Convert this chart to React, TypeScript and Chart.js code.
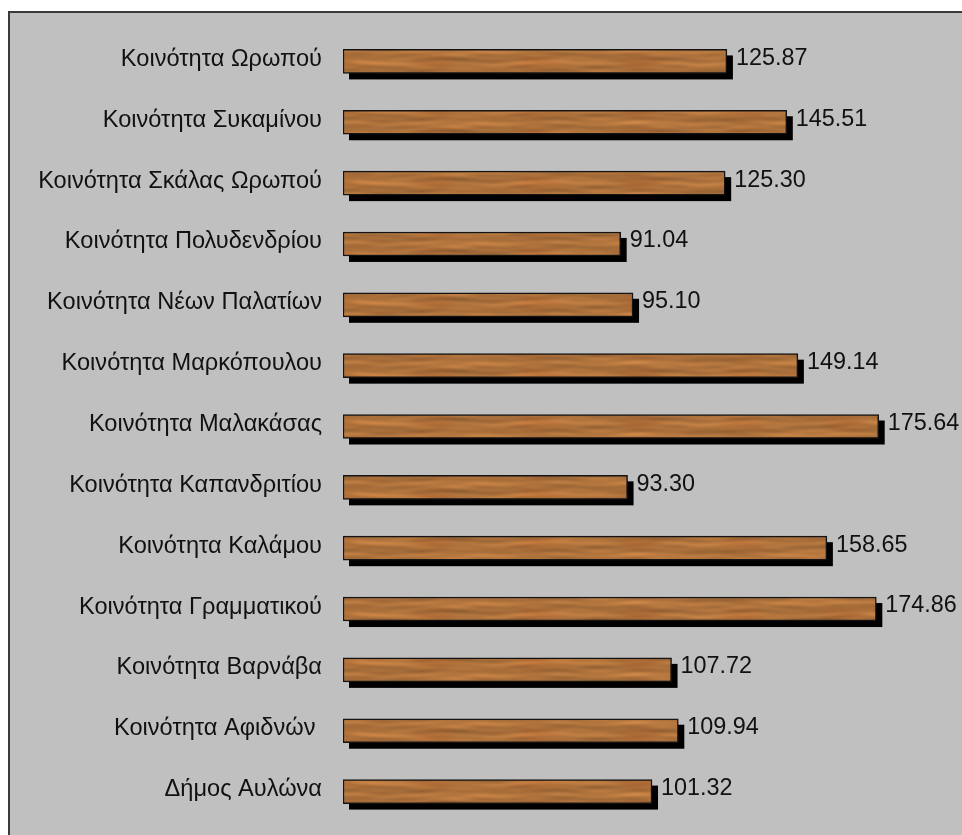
import React, { useEffect, useRef } from "react";
import { Chart, registerables } from "chart.js";

Chart.register(...registerables);

const categories: string[] = [
  "Κοινότητα Ωρωπού",
  "Κοινότητα Συκαμίνου",
  "Κοινότητα Σκάλας Ωρωπού",
  "Κοινότητα Πολυδενδρίου",
  "Κοινότητα Νέων Παλατίων",
  "Κοινότητα Μαρκόπουλου",
  "Κοινότητα Μαλακάσας",
  "Κοινότητα Καπανδριτίου",
  "Κοινότητα Καλάμου",
  "Κοινότητα Γραμματικού",
  "Κοινότητα Βαρνάβα",
  "Κοινότητα Αφιδνών ",
  "Δήμος Αυλώνα",
];

const values: number[] = [
  125.87, 145.51, 125.3, 91.04, 95.1, 149.14, 175.64, 93.3, 158.65, 174.86,
  107.72, 109.94, 101.32,
];

const axisMax = 200;
const FONT = "'Liberation Sans', Arial, sans-serif";

function makeWoodPattern(): CanvasPattern | string {
  const w = 512;
  const h = 24;
  const off = document.createElement("canvas");
  off.width = w;
  off.height = h;
  const c = off.getContext("2d");
  if (!c) return "#ac7038";
  const img = c.createImageData(w, h);
  const T = Math.PI * 2;
  for (let y = 0; y < h; y++) {
    for (let x = 0; x < w; x++) {
      const a = (T * x) / w;
      const b = (T * y) / h;
      const f =
        1 +
        0.06 * Math.sin(2 * b + 0.8 * Math.sin(2 * a) + 0.5) +
        0.05 * Math.sin(3 * a + 0.4) * Math.cos(b) +
        0.04 * Math.sin(7 * a + 1.3) * Math.sin(3 * b + 0.7) +
        0.03 * Math.sin(4 * b + 1.5 * Math.sin(5 * a)) +
        0.02 * Math.sin(13 * a + 2.1) * Math.sin(2 * b + 1.9);
      const red = 0.07 * Math.max(0, Math.sin(5 * a + 0.7)) * (0.5 + 0.5 * Math.sin(b + 1.1));
      const i = (y * w + x) * 4;
      img.data[i] = Math.min(255, 174 * f * (1 - red * 0.2));
      img.data[i + 1] = Math.min(255, 114 * f * (1 - red));
      img.data[i + 2] = Math.min(255, 60 * f * (1 - red * 1.5));
      img.data[i + 3] = 255;
    }
  }
  c.putImageData(img, 0, 0);
  const p = c.createPattern(off, "repeat");
  return p || "#ac7038";
}

const shadowPlugin = {
  id: "barShadow",
  beforeDatasetsDraw(chart: any) {
    const ctx = chart.ctx;
    const meta = chart.getDatasetMeta(0);
    ctx.save();
    ctx.fillStyle = "#000";
    meta.data.forEach((bar: any) => {
      const { x, y, base, height } = bar.getProps(["x", "y", "base", "height"], true);
      ctx.fillRect(base + 6, y - height / 2 + 6, x - base, height);
    });
    ctx.restore();
  },
};

const valueLabelPlugin = {
  id: "valueLabels",
  afterDatasetsDraw(chart: any) {
    const ctx = chart.ctx;
    const meta = chart.getDatasetMeta(0);
    ctx.save();
    ctx.fillStyle = "#111";
    ctx.font = "23.4px " + FONT;
    ctx.textAlign = "left";
    ctx.textBaseline = "middle";
    meta.data.forEach((bar: any, i: number) => {
      const { x, y } = bar.getProps(["x", "y"], true);
      ctx.fillText(values[i].toFixed(2), x + 9, y - 3);
    });
    ctx.restore();
  },
};

export default function App() {
  const ref = useRef<HTMLCanvasElement | null>(null);

  useEffect(() => {
    if (!ref.current) return;
    const pattern = makeWoodPattern();
    const chart = new Chart(ref.current, {
      type: "bar",
      data: {
        labels: categories,
        datasets: [
          {
            data: values,
            backgroundColor: pattern as any,
            borderColor: "#141414",
            borderWidth: 1.5,
            borderSkipped: false,
            barThickness: 24,
          },
        ],
      },
      plugins: [shadowPlugin, valueLabelPlugin],
      options: {
        indexAxis: "y",
        animation: false,
        responsive: false,
        maintainAspectRatio: false,
        layout: { padding: { top: 18, bottom: 13, left: 0, right: 9 } },
        plugins: {
          legend: { display: false },
          tooltip: { enabled: false },
        },
        scales: {
          x: {
            display: false,
            min: 0,
            max: axisMax,
          },
          y: {
            afterFit(scale: any) {
              scale.width = 333;
              scale.paddingTop = 0;
              scale.paddingBottom = 0;
            },
            grid: { display: false, drawTicks: false },
            border: { display: false },
            ticks: {
              color: "#111",
              padding: 21,
              labelOffset: -2,
              font: { family: FONT, size: 23.6 },
            },
          },
        },
      },
    });
    return () => chart.destroy();
  }, []);

  return (
    <div
      style={{
        position: "fixed",
        left: 8,
        top: 11,
        width: 954,
        height: 824,
        overflow: "hidden",
        background: "#c0c0c0",
        borderLeft: "2px solid #3a3a3a",
        borderTop: "2px solid #3a3a3a",
      }}
    >
      <canvas ref={ref} width={952} height={822} style={{ display: "block" }} />
    </div>
  );
}
